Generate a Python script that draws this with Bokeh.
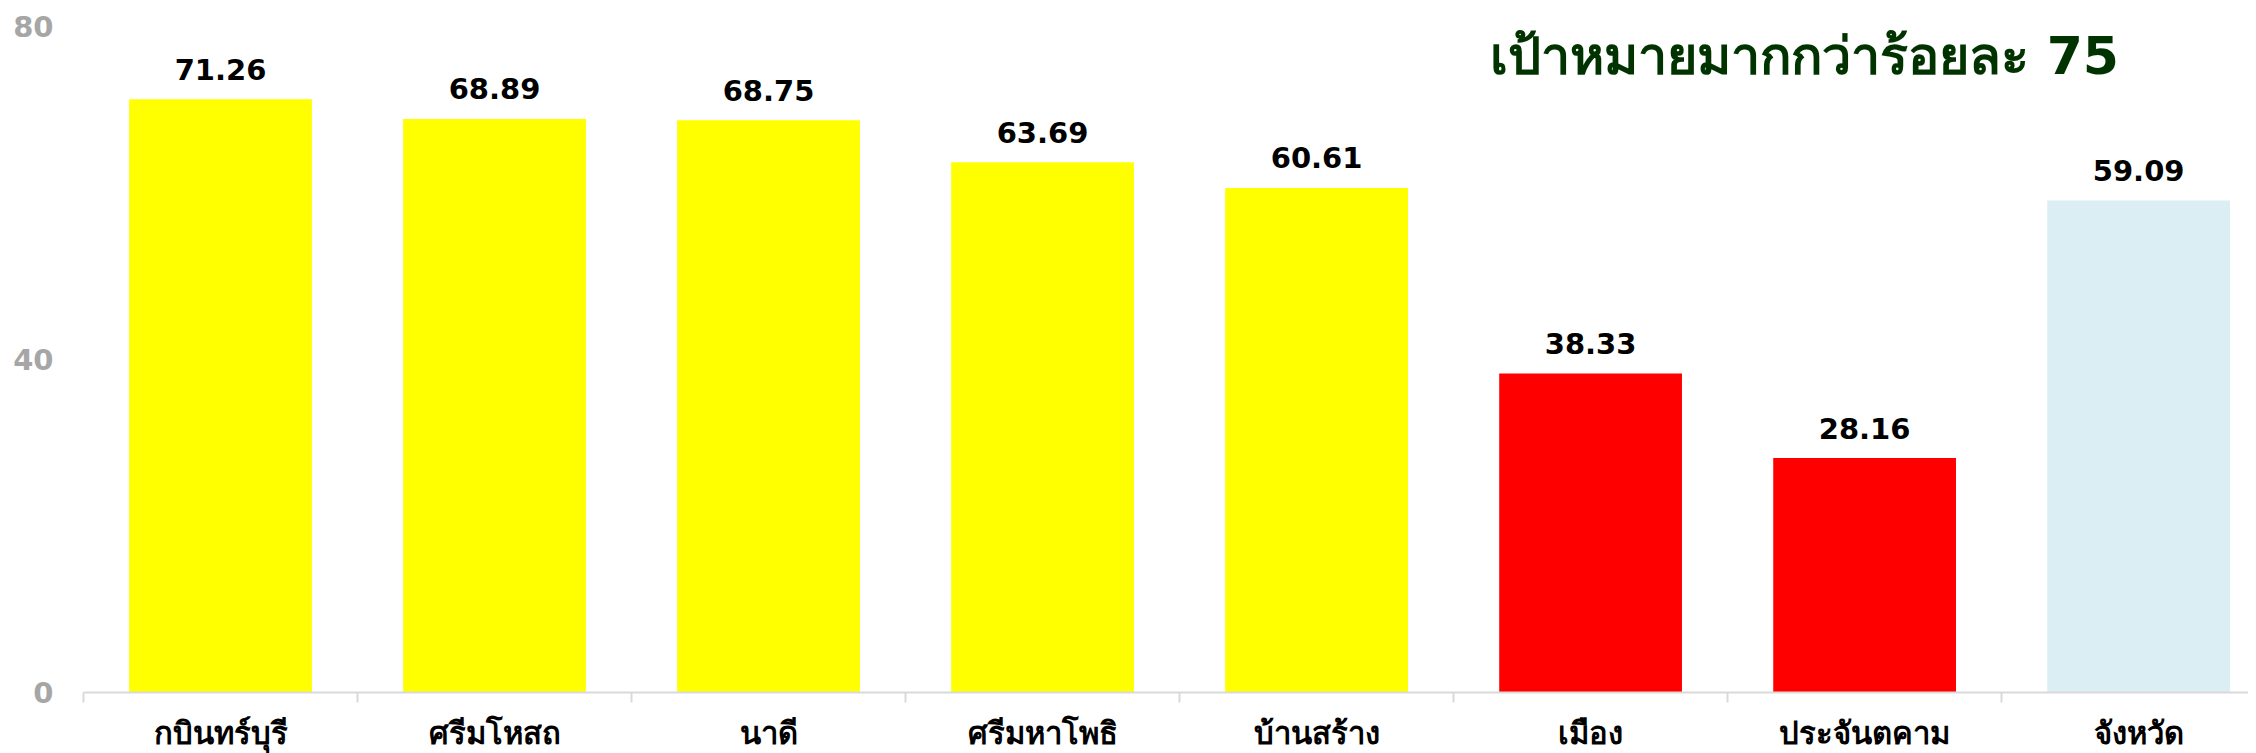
from bokeh.plotting import figure
from bokeh.models import ColumnDataSource, Range1d, FixedTicker, Label
from bokeh.embed import file_html
from bokeh.resources import INLINE
from bokeh.core.properties import value

categories = ["กบินทร์บุรี", "ศรีมโหสถ", "นาดี", "ศรีมหาโพธิ", "บ้านสร้าง", "เมือง", "ประจันตคาม", "จังหวัด"]
values = [71.26, 68.89, 68.75, 63.69, 60.61, 38.33, 28.16, 59.09]
colors = ["#FFFF00", "#FFFF00", "#FFFF00", "#FFFF00", "#FFFF00", "#FF0000", "#FF0000", "#DAEEF3"]
y_ticks = [0, 40, 80]
title_text = "เป้าหมายมากกว่าร้อยละ 75"

xs = list(range(1, len(categories) + 1))
src = ColumnDataSource(dict(x=xs, v=values, c=colors, lbl=["%.2f" % v for v in values]))

p = figure(frame_width=2165, frame_height=666, output_backend="svg", toolbar_location=None,
           x_range=Range1d(0.5, 8.401), y_range=Range1d(0, 80),
           min_border_left=83, min_border_right=0, min_border_top=26, min_border_bottom=53)
p.outline_line_color = None
p.xgrid.grid_line_color = None
p.ygrid.grid_line_color = None
p.background_fill_color = "white"
p.border_fill_color = "white"

p.vbar(x="x", top="v", width=0.667, fill_color="c", line_color=None, source=src)
p.text(x="x", y="v", text="lbl", source=src, y_offset=-30, text_align="center",
       text_baseline="middle", text_font=value("DejaVu Sans"), text_font_style="bold",
       text_font_size="29px", text_color="black")

p.add_layout(Label(x=6.78, y=76.4, text=title_text, text_align="center", text_baseline="middle",
                   text_font="Tahoma, DejaVu Sans", text_font_style="bold", text_font_size="52px",
                   text_color="#003300"))

# y axis
p.yaxis.ticker = FixedTicker(ticks=y_ticks)
p.yaxis.axis_line_color = None
p.yaxis.major_tick_line_color = None
p.yaxis.major_tick_out = 0
p.yaxis.minor_tick_line_color = None
p.yaxis.major_label_standoff = 30
p.yaxis.major_label_text_color = "#A6A6A6"
p.yaxis.major_label_text_font = "DejaVu Sans"
p.yaxis.major_label_text_font_style = "bold"
p.yaxis.major_label_text_font_size = "29px"

# x axis
p.xaxis.ticker = FixedTicker(ticks=xs, minor_ticks=[i + 0.5 for i in range(0, len(categories) + 1)])
p.xaxis.major_label_overrides = {x: c for x, c in zip(xs, categories)}
p.xaxis.axis_line_color = "#D9D9D9"
p.xaxis.axis_line_width = 2
p.xaxis.major_tick_line_color = None
p.xaxis.major_tick_out = 0
p.xaxis.minor_tick_line_color = "#D9D9D9"
p.xaxis.minor_tick_line_width = 2
p.xaxis.minor_tick_out = 10
p.xaxis.minor_tick_in = 0
p.xaxis.major_label_standoff = 12
p.xaxis.major_label_text_color = "black"
p.xaxis.major_label_text_font = "Tahoma, DejaVu Sans"
p.xaxis.major_label_text_font_style = "bold"
p.xaxis.major_label_text_font_size = "31px"

open("out.html", "w").write(file_html(p, INLINE))
